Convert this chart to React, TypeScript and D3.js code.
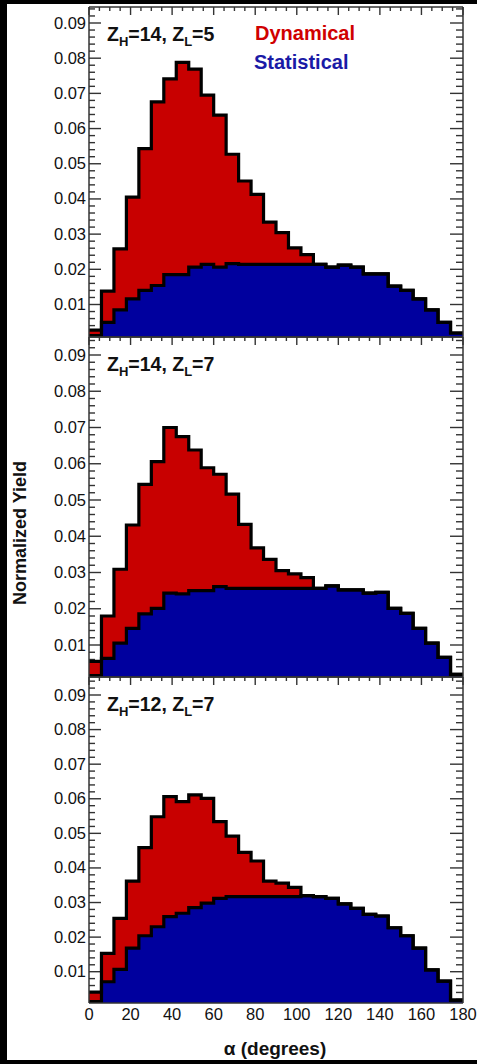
import React from "react";
import * as d3 from "d3";

const binStarts = [0, 6, 12, 18, 24, 30, 36, 42, 48, 54, 60, 66, 72, 78, 84, 90, 96, 102, 108, 114, 120, 126, 132, 138, 144, 150, 156, 162, 168, 174];
const binWidth = 6;

const totalA = [0.0027, 0.0138, 0.0258, 0.0405, 0.0543, 0.0676, 0.0741, 0.0788, 0.0769, 0.0695, 0.0638, 0.0527, 0.0451, 0.0413, 0.0334, 0.0304, 0.0261, 0.0242, 0.0214, 0.0206, 0.0212, 0.0206, 0.0187, 0.0187, 0.0152, 0.0140, 0.0116, 0.0085, 0.0049, 0.0019];
const statA = [0, 0.0049, 0.0085, 0.0116, 0.0140, 0.0154, 0.0185, 0.0185, 0.0206, 0.0214, 0.0206, 0.0216, 0.0214, 0.0214, 0.0214, 0.0214, 0.0214, 0.0214, 0.0214, 0.0206, 0.0212, 0.0206, 0.0187, 0.0187, 0.0152, 0.0140, 0.0116, 0.0085, 0.0049, 0.0019];

const totalB = [0.0055, 0.0180, 0.0309, 0.0431, 0.0543, 0.0606, 0.0700, 0.0675, 0.0638, 0.0589, 0.0571, 0.0516, 0.0433, 0.0368, 0.0336, 0.0305, 0.0296, 0.0286, 0.0256, 0.0263, 0.0252, 0.0252, 0.0243, 0.0245, 0.0201, 0.0187, 0.0146, 0.0105, 0.0066, 0.0019];
const statB = [0, 0.0063, 0.0105, 0.0146, 0.0186, 0.0201, 0.0243, 0.0241, 0.0250, 0.0250, 0.0261, 0.0256, 0.0256, 0.0256, 0.0256, 0.0256, 0.0256, 0.0256, 0.0256, 0.0263, 0.0252, 0.0252, 0.0243, 0.0245, 0.0201, 0.0187, 0.0146, 0.0105, 0.0066, 0.0019];

const totalC = [0.0041, 0.0153, 0.0254, 0.0362, 0.0459, 0.0548, 0.0606, 0.0592, 0.0611, 0.0601, 0.0534, 0.0492, 0.0445, 0.0420, 0.0362, 0.0356, 0.0344, 0.0320, 0.0317, 0.0312, 0.0296, 0.0283, 0.0266, 0.0261, 0.0227, 0.0204, 0.0168, 0.0105, 0.0073, 0.0018];
const statC = [0, 0.0071, 0.0107, 0.0168, 0.0204, 0.0230, 0.0259, 0.0269, 0.0285, 0.0298, 0.0312, 0.0317, 0.0317, 0.0317, 0.0317, 0.0317, 0.0317, 0.0320, 0.0317, 0.0312, 0.0296, 0.0283, 0.0266, 0.0261, 0.0227, 0.0204, 0.0168, 0.0105, 0.0073, 0.0018];

const panelZH = ["14", "14", "12"];
const panelZL = ["5", "7", "7"];
const yTickLabels = [0.01, 0.02, 0.03, 0.04, 0.05, 0.06, 0.07, 0.08, 0.09];
const xTickLabels = [0, 20, 40, 60, 80, 100, 120, 140, 160, 180];
const legendLabels = ["Dynamical", "Statistical"];

const W = 477;
const H = 1064;
const X0 = 89;
const X1 = 463;
const RED = "#c80000";
const BLUE = "#00009e";
const FONT = "'Liberation Sans', Arial, Helvetica, sans-serif";

const panels = [
  { top: 7, bottom: 337, y09: 23, y01: 304.5, total: totalA, stat: statA },
  { top: 337, bottom: 677, y09: 355, y01: 645, total: totalB, stat: statB },
  { top: 677, bottom: 1003, y09: 695, y01: 971.7, total: totalC, stat: statC },
];

const x = d3.scaleLinear().domain([0, 180]).range([X0, X1]);

function Panel({ p, idx }: { p: any; idx: number }) {
  const y = d3.scaleLinear().domain([0.01, 0.09]).range([p.y01, p.y09]);
  const clampY = (v: number) => Math.min(p.bottom, y(v));
  const pts = (vals: number[]) => {
    const a = binStarts.map((s, i) => [s, vals[i]] as [number, number]);
    a.push([binStarts[binStarts.length - 1] + binWidth, vals[vals.length - 1]]);
    return a;
  };
  const area = d3
    .area<[number, number]>()
    .curve(d3.curveStepAfter)
    .x((d) => x(d[0]))
    .y0(p.bottom)
    .y1((d) => clampY(d[1]));
  const line = d3
    .line<[number, number]>()
    .curve(d3.curveStepAfter)
    .x((d) => x(d[0]))
    .y((d) => Math.min(p.bottom - 1.5, y(d[1])));

  const minorY: number[] = [];
  for (let k = 0; k <= 50; k++) {
    const v = k * 0.002;
    const py = y(v);
    if (py >= p.top + 0.5 && py <= p.bottom - 0.5) minorY.push(v);
  }
  const minorX: number[] = [];
  for (let k = 0; k <= 36; k++) minorX.push(k * 5);

  const isMajorY = (v: number) => Math.abs(v * 100 - Math.round(v * 100)) < 1e-6;

  return (
    <g>
      {minorY.map((v, i) => {
        const maj = isMajorY(v);
        const py = y(v);
        return (
          <g key={"yt" + i} stroke="#333" strokeWidth={1.4}>
            <line x1={X0} x2={X0 + (maj ? 12 : 6)} y1={py} y2={py} />
            <line x1={X1} x2={X1 - (maj ? 13 : 7)} y1={py} y2={py} />
          </g>
        );
      })}
      {minorX.map((v, i) => {
        const maj = v % 20 === 0;
        return (
          <line key={"xt" + i} x1={x(v)} x2={x(v)} y1={p.top} y2={p.top + (maj ? 8 : 4)} stroke="#333" strokeWidth={1.4} />
        );
      })}
      <path d={area(pts(p.total)) || ""} fill={RED} />
      <path d={area(pts(p.stat)) || ""} fill={BLUE} />
      <path d={line(pts(p.total)) || ""} fill="none" stroke="#000" strokeWidth={3.2} />
      <path d={line(pts(p.stat)) || ""} fill="none" stroke="#000" strokeWidth={3.2} />
      <line x1={X0} x2={X0} y1={p.top} y2={p.bottom} stroke="#333" strokeWidth={1.5} />
      <line x1={X1} x2={X1} y1={p.top} y2={p.bottom} stroke="#333" strokeWidth={1.5} />
      <line x1={X0} x2={X1} y1={p.top} y2={p.top} stroke="#333" strokeWidth={1.5} />
      <line x1={X0} x2={X1} y1={p.bottom} y2={p.bottom} stroke="#333" strokeWidth={1.5} />
      {yTickLabels.map((v) => (
        <text key={"yl" + v} x={86} y={y(v) + 5.5} textAnchor="end" fontSize={16.5} fontFamily={FONT} fill="#111">
          {v.toFixed(2)}
        </text>
      ))}
      <text x={107} y={p.top + 34} fontSize={19.5} fontWeight="bold" fontFamily={FONT} fill="#111">
        <tspan>Z</tspan>
        <tspan fontSize={13} dy={5}>H</tspan>
        <tspan dy={-5}>{"=" + panelZH[idx] + ", Z"}</tspan>
        <tspan fontSize={13} dy={5}>L</tspan>
        <tspan dy={-5}>{"=" + panelZL[idx]}</tspan>
      </text>
    </g>
  );
}

export default function App() {
  return (
    <svg width={W} height={H} style={{ position: "absolute", left: 0, top: 0 }} xmlns="http://www.w3.org/2000/svg">
      <rect x={0} y={0} width={W} height={H} fill="#000" />
      <rect x={7} y={4} width={W - 7} height={1056} fill="#fff" />
      {panels.map((p, i) => (
        <Panel key={i} p={p} idx={i} />
      ))}
      <text x={255} y={40} fontSize={20} fontWeight="bold" fontFamily={FONT} fill="#d00000">
        {legendLabels[0]}
      </text>
      <text x={254} y={69} fontSize={20} fontWeight="bold" fontFamily={FONT} fill="#1a1aa6">
        {legendLabels[1]}
      </text>
      {xTickLabels.map((v) => (
        <text key={"xl" + v} x={x(v)} y={1020} textAnchor="middle" fontSize={16.5} fontFamily={FONT} fill="#111">
          {v}
        </text>
      ))}
      <text x={275} y={1055} textAnchor="middle" fontSize={19} fontWeight="bold" fontFamily={FONT} fill="#111">
        α (degrees)
      </text>
      <text transform={`translate(26,533) rotate(-90)`} textAnchor="middle" fontSize={18} fontWeight="bold" fontFamily={FONT} fill="#111">
        Normalized Yield
      </text>
    </svg>
  );
}
